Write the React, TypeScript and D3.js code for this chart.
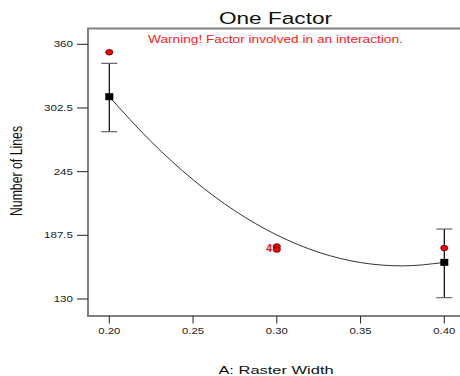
import React from 'react';
import * as d3 from 'd3';

// values
const xTicks = [0.2, 0.25, 0.3, 0.35, 0.4];
const yTicks = [130, 187.5, 245, 302.5, 360];

const actualX = [0.2, 0.3, 0.3, 0.4];
const actualY = [352.8, 177.4, 174.7, 176.0];

const meanX = [0.2, 0.4];
const meanY = [312.7, 163.1];
const errLow = [281.1, 131.2];
const errHigh = [342.8, 193.2];

const curveX = [0.2, 0.225, 0.25, 0.275, 0.3, 0.325, 0.35, 0.375, 0.4];
const curveY = [312.7, 272.1, 237.7, 209.6, 187.8, 172.2, 162.9, 159.9, 163.1];

const countLabel = { x: 0.3, y: 176, text: '4' };

const FONT = '"Liberation Sans", Arial, sans-serif';

export default function App() {
  const W = 460;
  const H = 376;
  const frame = { left: 88, top: 28.5, right: 462, bottom: 316 };

  const x = d3.scaleLinear().domain([0.2, 0.4]).range([109.3, 444.3]);
  const y = d3.scaleLinear().domain([130, 360]).range([299, 44.3]);

  const line = d3
    .line<number>()
    .x((d, i) => x(curveX[i]))
    .y((d) => y(d))
    .curve(d3.curveMonotoneX);

  const sx = 1.38; // the original text is stretched sideways

  return (
    <svg
      width={W}
      height={H}
      style={{ position: 'fixed', left: 0, top: 0, background: '#fff' }}
      fontFamily={FONT}
    >
      {/* title + warning */}
      <text
        transform={`translate(275.5,24) scale(1.33,1)`}
        textAnchor="middle"
        fontSize={17}
        fill="#111"
      >
        One Factor
      </text>
      <text
        transform={`translate(148,43) scale(1.18,1)`}
        fontSize={11.6}
        fill="#ff2020"
      >
        Warning! Factor involved in an interaction.
      </text>

      {/* frame */}
      <path
        d={`M${frame.right},${frame.top}H${frame.left}V${frame.bottom}H${frame.right}`}
        fill="none"
        stroke="#808080"
        strokeWidth={2}
      />

      {/* y axis */}
      {yTicks.map((t) => (
        <g key={t}>
          <line x1={77} x2={frame.left} y1={y(t)} y2={y(t)} stroke="#222" strokeWidth={1} />
          <text
            transform={`translate(73,${y(t) + 3}) scale(${sx},1)`}
            textAnchor="end"
            fontSize={8.4}
            fill="#222"
          >
            {t}
          </text>
        </g>
      ))}

      {/* x axis */}
      {xTicks.map((t) => (
        <g key={t}>
          <line x1={x(t)} x2={x(t)} y1={frame.bottom} y2={323.5} stroke="#222" strokeWidth={1} />
          <text
            transform={`translate(${x(t)},334) scale(${sx},1)`}
            textAnchor="middle"
            fontSize={8.2}
            fill="#222"
          >
            {t.toFixed(2)}
          </text>
        </g>
      ))}

      {/* axis titles */}
      <text
        transform={`translate(276,374) scale(1.42,1)`}
        textAnchor="middle"
        fontSize={11.6}
        fill="#111"
      >
        A: Raster Width
      </text>
      <text
        transform={`translate(22,171) rotate(-90) scale(1,1.3)`}
        textAnchor="middle"
        fontSize={12.3}
        fill="#111"
      >
        Number of Lines
      </text>

      {/* model curve */}
      <path d={line(curveY) || ''} fill="none" stroke="#333" strokeWidth={1} />

      {/* error bars */}
      {meanX.map((m, i) => (
        <g key={m}>
          <line x1={x(m)} x2={x(m)} y1={y(errLow[i])} y2={y(errHigh[i])} stroke="#000" strokeWidth={1.2} />
          <line x1={x(m) - 8} x2={x(m) + 8} y1={y(errLow[i])} y2={y(errLow[i])} stroke="#666" strokeWidth={1.2} />
          <line x1={x(m) - 8} x2={x(m) + 8} y1={y(errHigh[i])} y2={y(errHigh[i])} stroke="#666" strokeWidth={1.2} />
        </g>
      ))}

      {/* actual points */}
      {actualX.map((a, i) => (
        <ellipse
          key={i}
          cx={x(a)}
          cy={y(actualY[i])}
          rx={3.6}
          ry={2.8}
          fill="#ff0000"
          stroke="#400"
          strokeWidth={0.8}
        />
      ))}
      <text
        x={x(countLabel.x) - 5}
        y={y(countLabel.y) + 3.5}
        textAnchor="end"
        fontSize={10}
        fontWeight="bold"
        fill="#ff0000"
      >
        {countLabel.text}
      </text>

      {/* predicted means */}
      {meanX.map((m, i) => (
        <rect key={m} x={x(m) - 4} y={y(meanY[i]) - 3.5} width={8} height={7} fill="#000" />
      ))}
    </svg>
  );
}
